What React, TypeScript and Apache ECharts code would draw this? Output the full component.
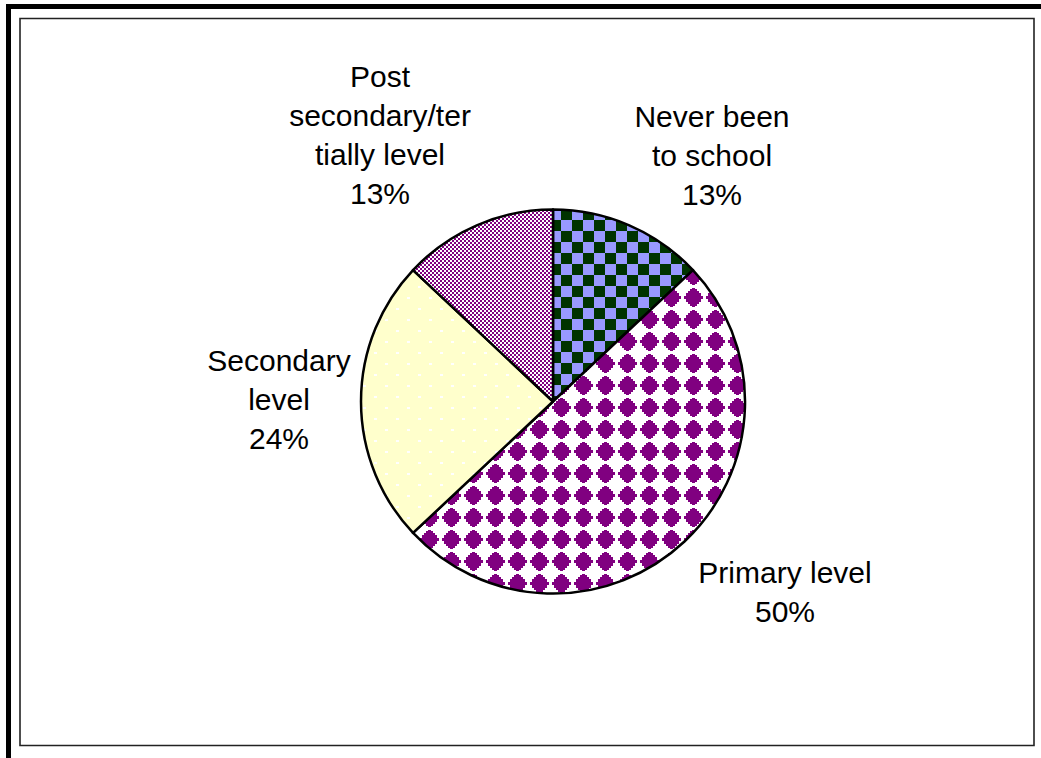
import { useEffect, useRef } from 'react';
import * as echarts from 'echarts';

// Education level of respondents (share of total, %)
const categories = [
  'Never been\nto school',
  'Primary level',
  'Secondary\nlevel',
  'Post\nsecondary/ter\ntially level',
];
const shares = [13, 50, 24, 13];

// Centre of each label block, in chart pixels
const LABEL_ANCHORS: [number, number][] = [
  [712, 155],
  [785, 592],
  [279, 399],
  [380, 135],
];

const PURPLE = '#800080';

function tile(w: number, h: number, draw: (ctx: CanvasRenderingContext2D) => void) {
  const c = document.createElement('canvas');
  c.width = w;
  c.height = h;
  const ctx = c.getContext('2d')!;
  draw(ctx);
  return c;
}

// Large checkerboard: dark green / periwinkle
function checkerTile() {
  return tile(22, 22, (ctx) => {
    ctx.fillStyle = '#9999FF';
    ctx.fillRect(0, 0, 22, 22);
    ctx.fillStyle = '#003300';
    ctx.fillRect(0, 0, 11, 11);
    ctx.fillRect(11, 11, 11, 11);
  });
}

// Stepped purple diamonds on white
function diamondTile() {
  return tile(22, 22, (ctx) => {
    ctx.fillStyle = '#FFFFFF';
    ctx.fillRect(0, 0, 22, 22);
    ctx.fillStyle = PURPLE;
    const half = [9, 9, 7, 7, 7, 5, 5, 3, 3, 1];
    for (let dy = -9; dy <= 9; dy++) {
      const hw = half[Math.abs(dy)];
      ctx.fillRect(11 - hw, 11 + dy, hw * 2 + 1, 1);
    }
  });
}

// Pale yellow with sparse white dots
function dottedTile() {
  return tile(22, 22, (ctx) => {
    ctx.fillStyle = '#FFFFCC';
    ctx.fillRect(0, 0, 22, 22);
    ctx.fillStyle = '#FFFFFF';
    ctx.fillRect(0, 0, 3, 2);
    ctx.fillRect(11, 11, 3, 2);
  });
}

// Fine purple / white checker
function fineCheckerTile() {
  return tile(4, 4, (ctx) => {
    ctx.fillStyle = '#FFFFFF';
    ctx.fillRect(0, 0, 4, 4);
    ctx.fillStyle = PURPLE;
    ctx.fillRect(0, 0, 2, 2);
    ctx.fillRect(2, 2, 2, 2);
  });
}

export default function App() {
  const ref = useRef<HTMLDivElement>(null);

  useEffect(() => {
    if (!ref.current) return;
    const chart = echarts.init(ref.current, null, { renderer: 'svg' });

    const tiles = [checkerTile(), diamondTile(), dottedTile(), fineCheckerTile()];
    const fills = tiles.map((c) => ({
      image: c,
      repeat: 'repeat',
      imageWidth: c.width,
      imageHeight: c.height,
    }));

    chart.setOption({
      animation: false,
      backgroundColor: '#FFFFFF',
      graphic: [
        // heavy outer frame on the top and left
        { type: 'rect', shape: { x: 6, y: 4, width: 1035, height: 5 }, style: { fill: '#000' }, z: -1 },
        { type: 'rect', shape: { x: 6, y: 4, width: 5, height: 754 }, style: { fill: '#000' }, z: -1 },
        // inner plot border
        {
          type: 'rect',
          shape: { x: 20, y: 18.5, width: 1014, height: 727 },
          style: { fill: 'none', stroke: '#222', lineWidth: 1.6 },
          z: -1,
        },
      ],
      series: [
        {
          type: 'pie',
          center: [553, 401.5],
          radius: 192,
          startAngle: 90,
          clockwise: true,
          avoidLabelOverlap: false,
          itemStyle: { borderColor: '#000', borderWidth: 2.5 },
          emphasis: { disabled: true },
          labelLine: { show: false },
          label: {
            show: true,
            position: 'outside',
            formatter: (p: any) => `${p.name}\n${Math.round(p.percent)}%`,
            fontFamily: 'Liberation Sans, Arial, sans-serif',
            fontSize: 30,
            lineHeight: 39,
            color: '#000',
            align: 'center',
          },
          labelLayout: (params: any) => {
            const [x, y] = LABEL_ANCHORS[params.dataIndex];
            return { x, y, align: 'center', verticalAlign: 'middle' };
          },
          data: categories.map((name, i) => ({
            name,
            value: shares[i],
            itemStyle: { color: fills[i] },
          })),
        },
      ],
    });

    return () => chart.dispose();
  }, []);

  return (
    <div
      ref={ref}
      style={{ position: 'absolute', left: 0, top: 0, width: 1041, height: 758 }}
    />
  );
}
